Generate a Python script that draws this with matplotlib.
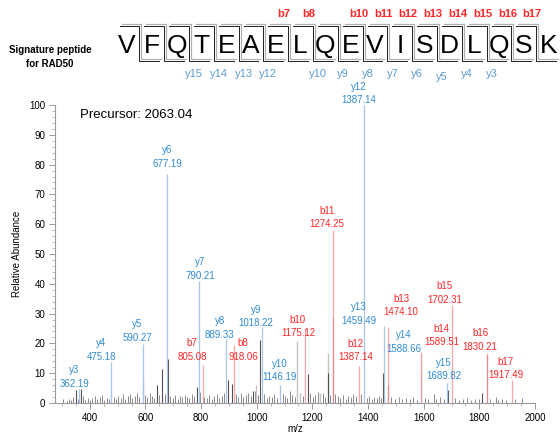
import matplotlib
matplotlib.use('Agg')
import matplotlib.pyplot as plt
from matplotlib.ticker import MultipleLocator

plt.rcParams['font.family'] = ['Liberation Sans', 'DejaVu Sans']

# peptide and fragment labels
peptide = list('VFQTEAELQEVISDLQSK')
b_ions = [7, 8, 10, 11, 12, 13, 14, 15, 16, 17]
y_ions = [15, 14, 13, 12, 10, 9, 8, 7, 6, 5, 4, 3]

# annotated fragment peaks
ion_names = ['y3', 'y4', 'y5', 'y6', 'y7', 'b7', 'y8', 'b8', 'y9', 'y10', 'b10',
             'b11', 'y12', 'b12', 'y13', 'b13', 'y14', 'b14', 'b15', 'y15', 'b16', 'b17']
ion_mz = [362.2, 477.0, 591.0, 678.5, 792.0, 806.5, 889.3, 918.1, 1018.2, 1083.0, 1173.0,
          1274.3, 1387.1, 1366.0, 1458.0, 1472.0, 1588.7, 1589.5, 1701.0, 1684.0, 1828.0, 1916.0]
ion_height = [4.7, 13.8, 19.8, 77, 41, 12.8, 21.5, 19.5, 25.5, 6, 24.8,
              58, 100, 12.4, 26, 25.5, 16.5, 17, 33, 6.7, 16.8, 7.7]
ion_text = ['362.19', '475.18', '590.27', '677.19', '790.21', '805.08', '889.33', '918.06',
            '1018.22', '1146.19', '1175.12', '1274.25', '1387.14', '1387.14', '1459.49',
            '1474.10', '1588.66', '1589.51', '1702.31', '1689.82', '1830.21', '1917.49']

# unannotated peaks
dark_mz = [350, 368, 642, 660, 682, 785, 897, 911, 986, 1013, 1184, 1256, 1274,
           1455, 1472, 1589, 1686, 1809, 1826]
dark_h = [4.5, 4.8, 6, 11.4, 14.8, 5.4, 7.7, 6.4, 4, 21, 9.7, 10, 29,
          10, 6, 10.4, 4.4, 3.3, 16]
light_mz = [590, 999, 1146, 1154, 1256, 1226]
light_h = [7.4, 6, 20.8, 3.4, 16.8, 3.5]
noise_mz = [305, 318, 326, 334, 341, 357, 375, 384, 392, 401, 409, 418, 427, 436, 444,
            452, 461, 469, 486, 494, 503, 511, 520, 528, 537, 545, 553, 561, 570, 578,
            598, 606, 615, 623, 631, 650, 669, 690, 698, 707, 716, 724, 733, 741, 750,
            758, 767, 775, 795, 812, 821, 830, 839, 848, 857, 866, 875, 884, 925, 934,
            943, 952, 961, 970, 979, 992, 1003, 1027, 1036, 1045, 1054, 1063, 1072, 1094,
            1101, 1110, 1119, 1128, 1137, 1165, 1193, 1202, 1211, 1220, 1229, 1238, 1247,
            1265, 1283, 1292, 1301, 1310, 1319, 1328, 1337, 1346, 1355, 1375, 1396, 1405,
            1414, 1423, 1432, 1441, 1448, 1483, 1497, 1510, 1523, 1536, 1549, 1562, 1575,
            1603, 1617, 1638, 1645, 1659, 1672, 1713, 1727, 1741, 1755, 1769, 1783, 1797,
            1839, 1859, 1867, 1881, 1895, 1928, 1953]
noise_h = [1.2, 0.8, 1.5, 1.0, 2.0, 1.4, 2.5, 1.1, 1.8, 0.9, 1.6, 2.2, 1.3, 1.9, 2.6,
           1.0, 1.7, 1.2, 2.1, 1.5, 2.4, 1.8, 2.9, 1.4, 2.2, 3.0, 1.6, 2.5, 3.3, 2.0,
           2.8, 1.9, 3.5, 2.3, 1.7, 2.6, 3.0, 2.2, 1.8, 2.7, 1.5, 2.4, 1.9, 2.8, 2.1,
           1.6, 3.1, 2.4, 3.8, 2.0, 1.7, 2.6, 1.4, 2.2, 3.0, 1.8, 2.5, 3.2, 2.9, 2.1,
           3.4, 1.9, 2.6, 3.3, 2.2, 4.0, 2.7, 3.1, 1.8, 2.5, 2.0, 3.0, 1.6, 3.0,
           2.2, 1.7, 4.0, 2.8, 1.9, 2.3, 3.5, 2.1, 2.8, 3.6, 2.4, 3.2, 1.9,
           2.6, 3.0, 2.2, 1.8, 2.7, 1.5, 2.4, 2.0, 3.1, 2.5, 2.9, 1.6, 2.2,
           1.4, 2.0, 1.7, 2.3, 1.8, 1.9, 1.5, 2.1, 1.2, 1.8, 1.4, 2.0, 1.1,
           1.6, 1.3, 3.0, 1.5, 1.9, 1.2, 1.7, 1.0, 1.5, 1.8, 1.1, 1.4, 1.2,
           1.3, 2.0, 1.0, 1.4, 0.9, 1.2, 1.8]

BLUE_TXT = '#2f8bd4'
RED_TXT = '#ff2626'
BLUE_LINE = '#a8c6e6'
RED_LINE = '#ff9696'
PX = 0.72  # points per pixel at 100 dpi

# number-label offsets (dx, dy) in pixels relative to peak top
label_off = {
    'y3': (-5, 5), 'y4': (-10, 5), 'y5': (-6, 6), 'y6': (0, 10), 'y7': (1, 5),
    'b7': (-11, 8), 'y8': (-6, 4), 'b8': (9, -12), 'y9': (-6, 4), 'y10': (0, 8),
    'b10': (-7, -4), 'b11': (-6, 6), 'y12': (-6, 5), 'b12': (-3, 9), 'y13': (-25, 5),
    'b13': (13, 15), 'y14': (-17, 5), 'b14': (21, 10), 'b15': (-7, 5), 'y15': (-3, 7),
    'b16': (-7, 6), 'b17': (-6, 5),
}

fig = plt.figure(figsize=(5.6, 4.33), dpi=100)
ax = fig.add_axes([55 / 560, 30 / 433, 480 / 560, 298 / 433])

ax.vlines(noise_mz, 0, noise_h, color='#8a8a8a', linewidth=0.7)
ax.vlines(light_mz, 0, light_h, color='#c4c4c4', linewidth=1.0)
ax.vlines(dark_mz, 0, dark_h, color='#505050', linewidth=0.8)

for name, mz, h, txt in zip(ion_names, ion_mz, ion_height, ion_text):
    is_b = name.startswith('b')
    ax.vlines(mz, 0, h, color=RED_LINE if is_b else BLUE_LINE, linewidth=0.9,
              alpha=0.85 if is_b else 1.0)
    tc = RED_TXT if is_b else BLUE_TXT
    dx, dy = label_off[name]
    ax.annotate(txt, (mz, h), xytext=(dx * PX, dy * PX), textcoords='offset points',
                ha='center', va='center', fontsize=7, color=tc, annotation_clip=False)
    ax.annotate(name, (mz, h), xytext=(dx * PX, (dy + 13.5) * PX), textcoords='offset points',
                ha='center', va='center', fontsize=7, color=tc, annotation_clip=False)

ax.set_xlim(275, 2000)
ax.set_ylim(0, 100)
ax.xaxis.set_major_locator(MultipleLocator(200))
ax.xaxis.set_minor_locator(MultipleLocator(50))
ax.yaxis.set_major_locator(MultipleLocator(10))
ax.yaxis.set_minor_locator(MultipleLocator(2))
for s in ['top', 'right']:
    ax.spines[s].set_visible(False)
for s in ['left', 'bottom']:
    ax.spines[s].set_color('#9a9a9a')
    ax.spines[s].set_linewidth(0.8)
ax.tick_params(which='major', length=4, width=0.7, color='#9a9a9a', labelsize=7, pad=3)
ax.tick_params(which='minor', length=2.5, width=0.6, color='#b0b0b0')
ax.set_xlabel('m/z', fontsize=7, labelpad=1)
ax.set_ylabel('Relative Abundance', fontsize=7, labelpad=5)
fig.text(80 / 560, 1 - 115 / 433, 'Precursor: 2063.04', fontsize=9.5, va='center')

# peptide fragmentation map in pixel coordinates
top = fig.add_axes([0, 0, 1, 1], facecolor='none')
top.set_xlim(0, 560)
top.set_ylim(433, 0)
top.axis('off')

x0, step = 127, 24.8
y_top, y_bot = 26, 61
for i, aa in enumerate(peptide):
    top.text(x0 + i * step, 46, aa, ha='center', va='center', fontsize=19)
for k in range(len(peptide) - 1):
    g = x0 + (k + 0.5) * step
    xs = [g - step * 0.8, g, g, g + step * 0.8]
    ys = [y_top, y_top, y_bot, y_bot]
    top.plot([x + 2 for x in xs], [y - 2 for y in ys], color='#b0b0b0', linewidth=0.9)
    top.plot(xs, ys, color='#202020', linewidth=0.7)
for n in b_ions:
    g = x0 + (n - 0.5) * step
    top.text(g - 4, 14, f'b{n}', ha='center', va='center', fontsize=8, color=RED_TXT,
             fontweight='bold')
for n in y_ions:
    g = x0 + (len(peptide) - n - 0.5) * step
    top.text(g + 5, 77 if n == 5 else 74, f'y{n}', ha='center', va='center', fontsize=8,
             color='#5b9bd5')
top.text(50, 57, 'Signature peptide\nfor RAD50', ha='center', va='center', fontsize=7,
         fontweight='bold', linespacing=1.5)

fig.savefig('out.png', dpi=100)
